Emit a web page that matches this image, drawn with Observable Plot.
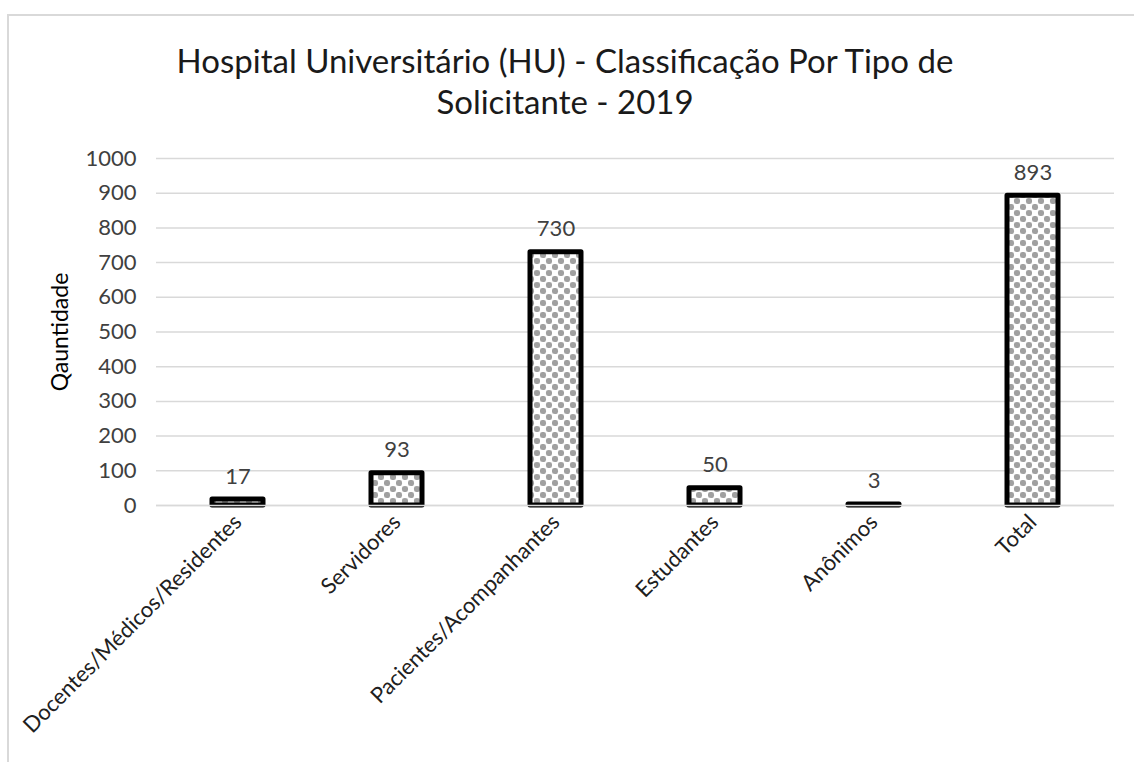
<!DOCTYPE html>
<html>
<head>
<meta charset="utf-8">
<script src="https://cdn.jsdelivr.net/npm/d3@7"></script>
<script src="https://cdn.jsdelivr.net/npm/@observablehq/plot@0.6"></script>
<style>
  body { margin: 0; background: #fff; font-family: Lato, "Open Sans", sans-serif; }
  #wrap { position: relative; width: 1134px; height: 762px; overflow: hidden; background: #fff; }
  #frame { position: absolute; left: 7px; top: 14px; width: 1200px; height: 900px; border: 2px solid #d9d9d9; box-sizing: border-box; }
  #title { position: absolute; left: 0; width: 1130px; top: 40px; text-align: center; font-size: 33px; line-height: 41px; color: #1a1a1a; font-weight: 400; }
  #chart { position: absolute; left: 0; top: 0; }
</style>
</head>
<body>
<div id="wrap">
  <div id="frame"></div>
  <div id="title">Hospital Universitário (HU) - Classificação Por Tipo de<br>Solicitante - 2019</div>
  <div id="chart"></div>
</div>
<script>
const categories = ["Docentes/Médicos/Residentes", "Servidores", "Pacientes/Acompanhantes", "Estudantes", "Anônimos", "Total"];
const values = [17, 93, 730, 50, 3, 893];
const yTicks = [0, 100, 200, 300, 400, 500, 600, 700, 800, 900, 1000];
const yLabel = "Qauntidade";

const data = categories.map((c, i) => ({category: c, value: values[i]}));

const chart = Plot.plot({
  width: 1134,
  height: 762,
  marginTop: 158,
  marginBottom: 257,
  marginLeft: 156,
  marginRight: 20,
  style: {fontFamily: "Lato, 'Open Sans', sans-serif", fontSize: "22px", background: "transparent", overflow: "visible"},
  x: {domain: categories, padding: 0},
  y: {domain: [0, 1000]},
  marks: [
    Plot.gridY(yTicks, {stroke: "#d9d9d9", strokeOpacity: 1, strokeWidth: 1.5}),
    Plot.axisY(yTicks, {tickSize: 0, tickPadding: 20, fontSize: 22, fill: "#404040", label: null, tickFormat: d => String(d)}),
    Plot.axisX({tickSize: 0, tickPadding: 13, tickRotate: -45, fontSize: 22, fill: "#202020", label: null}),
    Plot.barY(data, {x: "category", y: "value", fill: "url(#dots)", stroke: "#000", strokeWidth: 5, strokeLinejoin: "round", insetLeft: 54, insetRight: 54}),
    Plot.ruleY([0], {stroke: "#d9d9d9", strokeWidth: 1.5}),
    Plot.text(data, {x: "category", y: "value", text: d => String(d.value), dy: -16, lineAnchor: "bottom", fontSize: 22, fill: "#404040"}),
    Plot.text([yLabel], {frameAnchor: "left", textAnchor: "middle", dx: -96, rotate: -90, fontSize: 23, fill: "#000", text: d => d})
  ]
});

const svg = d3.select(chart);
const defs = svg.insert("defs", ":first-child");
const pat = defs.append("pattern").attr("id", "dots").attr("width", 12).attr("height", 12).attr("patternUnits", "userSpaceOnUse");
pat.append("rect").attr("width", 12).attr("height", 12).attr("fill", "#eeeeee");
pat.append("rect").attr("x", 6).attr("y", 0).attr("width", 6).attr("height", 6).attr("fill", "#ffffff");
pat.append("rect").attr("x", 0).attr("y", 6).attr("width", 6).attr("height", 6).attr("fill", "#ffffff");
pat.append("circle").attr("cx", 3).attr("cy", 3).attr("r", 3.1).attr("fill", "#a0a0a0");
pat.append("circle").attr("cx", 9).attr("cy", 9).attr("r", 3.1).attr("fill", "#a0a0a0");

document.getElementById("chart").appendChild(chart);
</script>
</body>
</html>
